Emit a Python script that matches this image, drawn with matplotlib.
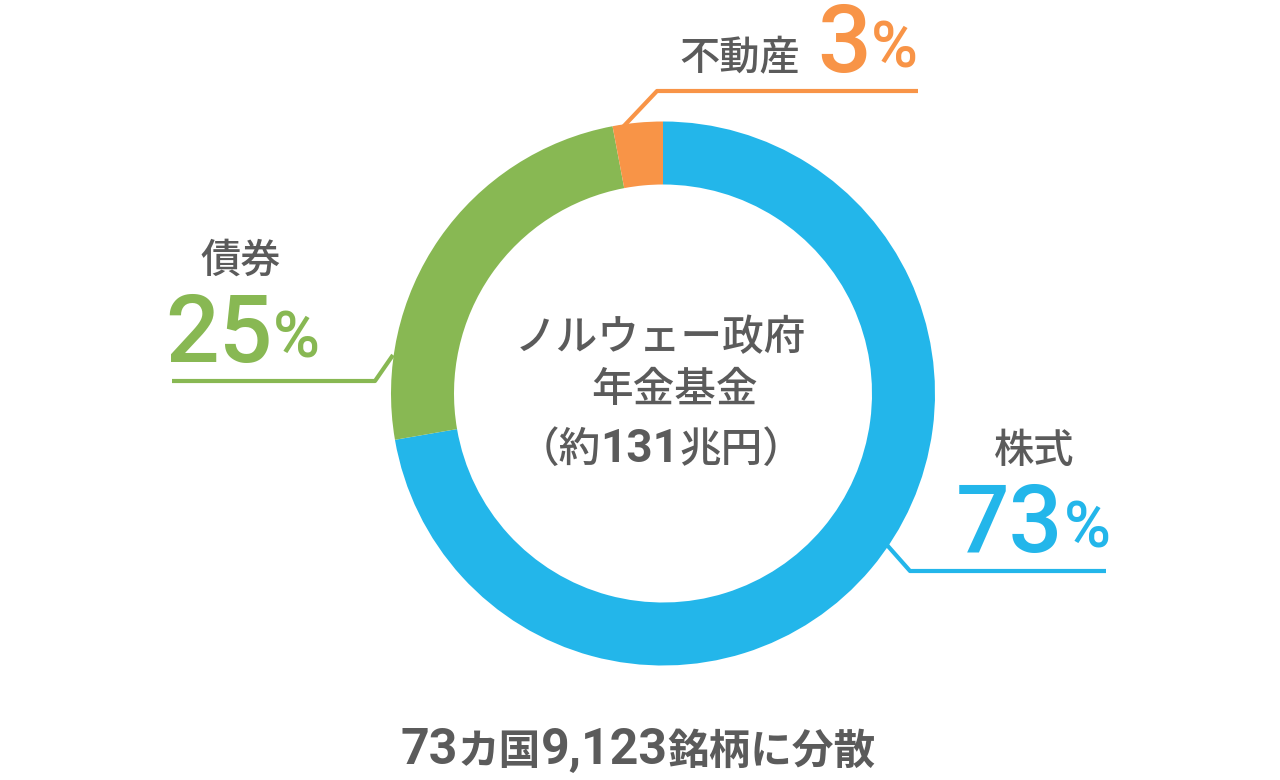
import matplotlib
matplotlib.use("Agg")
import matplotlib.pyplot as plt

# ---- data ----
categories = ["株式", "債券", "不動産"]
shares = [73, 25, 3]
colors = ["#23B6EA", "#88B853", "#F89447"]
center_lines = ["ノルウェー政府", "年金基金"]
center_amount = "131"
footer_parts = ["73", "カ国", "9,123", "銘柄に分散"]

GREY = "#5B5B5B"
CJK = "Noto Sans CJK JP"
LAT = "Roboto"

fig = plt.figure(figsize=(12.8, 7.8), dpi=100)
ax = fig.add_axes([0, 0, 1, 1])
cx, cy, R, W = 663, 393.5, 272, 63
ax.pie(shares, colors=colors, startangle=-90, counterclock=True,
       center=(cx, cy), radius=R,
       wedgeprops=dict(width=W, linewidth=0))
ax.set_xlim(0, 1280)
ax.set_ylim(780, 0)
ax.set_aspect("auto")
ax.axis("off")

renderer = fig.canvas.get_renderer()


def row(x, y, pieces, ha="left"):
    """pieces: (text, kwargs, dy) placed side by side along a baseline."""
    texts, widths = [], []
    for s, kw, dy in pieces:
        t = ax.text(0, y + dy, s, va="baseline", ha="left", **kw)
        w = t.get_window_extent(renderer).width
        texts.append(t)
        widths.append(w)
    total = sum(widths)
    cur = x - total / 2 if ha == "center" else (x - total if ha == "right" else x)
    for t, w in zip(texts, widths):
        t.set_x(cur)
        cur += w


# ---- leader lines ----
lw = 3.0
ax.plot([622, 657, 918], [128, 91, 91], color=colors[2], lw=lw, solid_capstyle="butt")
ax.plot([393, 375, 172], [355, 381, 381], color=colors[1], lw=lw, solid_capstyle="butt")
ax.plot([887, 910, 1106], [545, 571, 571], color=colors[0], lw=lw, solid_capstyle="butt")

LBL = dict(family=[CJK], fontsize=29, fontweight="medium", color=GREY, va="baseline", ha="left")


def pct(x, y, value, color):
    row(x, y, [
        (str(value), dict(family=[LAT], fontsize=68, fontweight="medium", color=color), 0),
        ("%", dict(family=[LAT], fontsize=46, fontweight="medium", color=color), -5),
    ])


# real estate
ax.text(679, 70, categories[2], **LBL)
pct(817, 72, shares[2], colors[2])

# bonds
ax.text(200, 273, categories[1], **LBL)
pct(165, 362, shares[1], colors[1])

# stocks
ax.text(994, 463, categories[0], **LBL)
pct(956, 552, shares[0], colors[0])

# ---- center text ----
CTR = dict(family=[CJK], fontsize=30, fontweight="medium", color=GREY)
ax.text(660, 350, center_lines[0], va="baseline", ha="center", **CTR)
ax.text(674, 402, center_lines[1], va="baseline", ha="center", **CTR)
row(661, 462, [
    ("（約", CTR, 0),
    (center_amount, dict(family=[LAT], fontsize=33, fontweight="bold", color=GREY), 0),
    ("兆円）", CTR, 0),
], ha="center")

# ---- footer ----
row(638, 764, [
    (footer_parts[0], dict(family=[LAT], fontsize=36, fontweight="bold", color=GREY), 0),
    (footer_parts[1], dict(family=[CJK], fontsize=30, fontweight="bold", color=GREY), 0),
    (footer_parts[2], dict(family=[LAT], fontsize=36, fontweight="bold", color=GREY), 0),
    (footer_parts[3], dict(family=[CJK], fontsize=30, fontweight="bold", color=GREY), 0),
], ha="center")

fig.savefig("out.png", dpi=100, facecolor="white")
